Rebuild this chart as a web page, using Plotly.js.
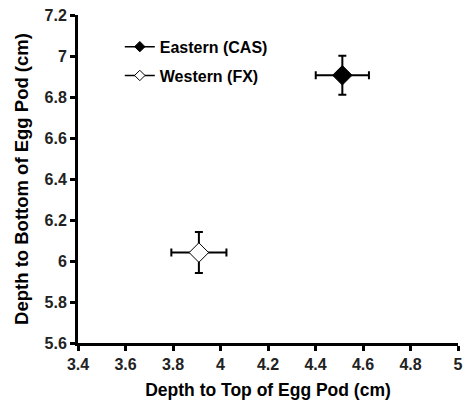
<!DOCTYPE html>
<html>
<head>
<meta charset="utf-8">
<script src="https://cdn.plot.ly/plotly-3.0.1.min.js"></script>
<style>html,body{margin:0;padding:0;background:#fff;}#chart{width:468px;height:402px;}</style>
</head>
<body>
<div id="chart"></div>
<script>
const seriesNames = ["Eastern (CAS)", "Western (FX)"];
const topDepth = [4.513, 3.909];
const topErr = [0.112, 0.116];
const bottomDepth = [6.906, 6.041];
const bottomErr = [0.095, 0.10];
const markerFill = ["#000000", "#ffffff"];
const xTicks = [3.4, 3.6, 3.8, 4, 4.2, 4.4, 4.6, 4.8, 5];
const yTicks = [5.6, 5.8, 6, 6.2, 6.4, 6.6, 6.8, 7, 7.2];

const fam = "Liberation Sans, Arial, sans-serif";

const dataTraces = seriesNames.map((name, i) => ({
  type: "scatter",
  mode: "markers",
  name: name,
  showlegend: false,
  x: [topDepth[i]],
  y: [bottomDepth[i]],
  marker: {symbol: "diamond", size: 15, color: markerFill[i], line: {color: "#000", width: 1}},
  error_x: {type: "data", array: [topErr[i]], color: "#000", thickness: 2, width: 4},
  error_y: {type: "data", array: [bottomErr[i]], color: "#000", thickness: 2, width: 4}
}));

// legend-only entries (smaller marker as in the reference legend)
const legendTraces = seriesNames.map((name, i) => ({
  type: "scatter",
  mode: "lines+markers",
  name: name,
  legendgroup: "g" + i,
  x: [null],
  y: [null],
  line: {color: "#000", width: 1.5},
  marker: {symbol: "diamond", size: 8, color: markerFill[i], line: {color: "#000", width: 1}}
}));

const layout = {
  width: 468, height: 402,
  margin: {l: 78, r: 10, t: 15, b: 59},
  paper_bgcolor: "#fff", plot_bgcolor: "#fff",
  font: {family: fam, size: 16, color: "#000", weight: "bold"},
  showlegend: true,
  legend: {x: 0.11, y: 0.955, xanchor: "left", yanchor: "top", bgcolor: "rgba(0,0,0,0)",
           font: {family: fam, size: 16, color: "#000", weight: "bold"},
           traceorder: "grouped", tracegroupgap: 5},
  xaxis: {
    range: [3.4, 5], tickvals: xTicks, ticktext: xTicks.map(String),
    showgrid: false, zeroline: false, showline: true, linecolor: "#000", linewidth: 3,
    ticks: "outside", ticklen: 5, tickwidth: 3, tickcolor: "#000",
    tickfont: {family: fam, size: 16, color: "#222", weight: "bold"},
    title: {text: "Depth to Top of Egg Pod (cm)", font: {family: fam, size: 17.5, color: "#000", weight: "bold"}, standoff: 12}
  },
  yaxis: {
    range: [5.6, 7.2], tickvals: yTicks, ticktext: yTicks.map(String),
    showgrid: false, zeroline: false, showline: true, linecolor: "#000", linewidth: 3,
    ticks: "outside", ticklen: 5, tickwidth: 3, tickcolor: "#000",
    tickfont: {family: fam, size: 16, color: "#222", weight: "bold"},
    title: {text: "Depth to Bottom of Egg Pod (cm)", font: {family: fam, size: 18.5, color: "#000", weight: "bold"}, standoff: 12}
  }
};

Plotly.newPlot("chart", dataTraces.concat(legendTraces), layout, {displayModeBar: false, staticPlot: true});
</script>
</body>
</html>
